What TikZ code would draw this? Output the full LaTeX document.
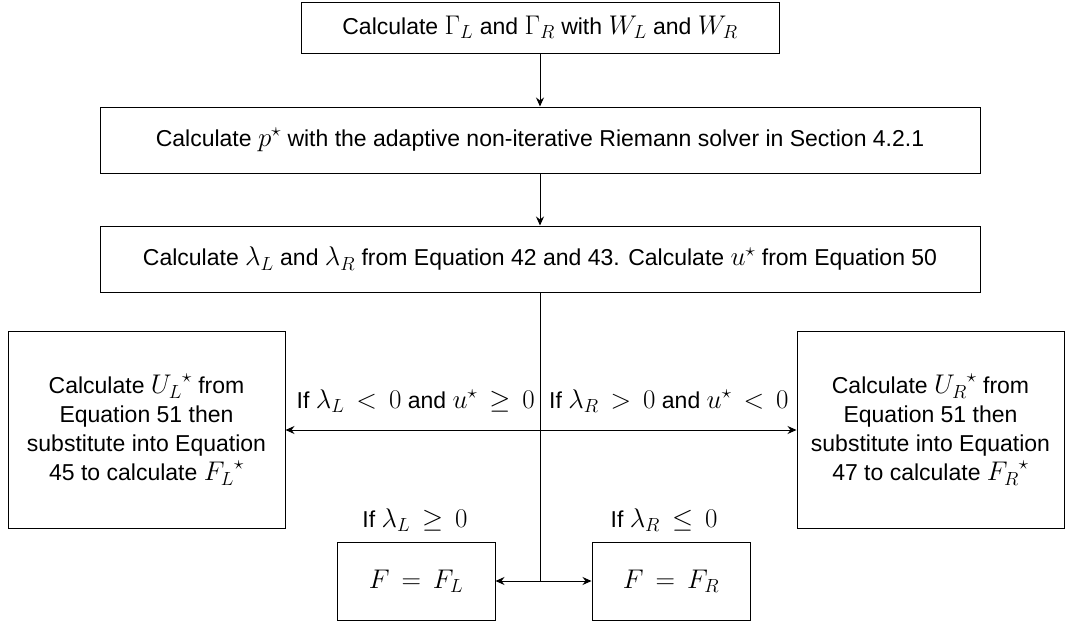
\documentclass[tikz,border=0pt]{standalone}
\usepackage{fix-cm}
\usepackage[no-math]{fontspec}
\setmainfont{Liberation Sans}
\DeclareMathSizes{23}{27}{19}{15}
\usepackage{tikz}
\usetikzlibrary{arrows.meta,positioning,calc}
\tikzset{
    stagebox/.style={
        draw=black,line width=1pt,align=center,inner sep=0pt,
        font=\fontsize{23}{29}\selectfont
    },
    arrow/.style={
        -{Stealth[length=9pt,width=8pt,inset=3pt]},line width=1pt,draw=black
    },
    cond/.style={
        inner sep=0pt,font=\fontsize{23}{28}\selectfont
    }
}

\begin{document}
\begin{tikzpicture}[x=1pt,y=-1pt]

\useasboundingbox (0,0) rectangle (1071,621);

\node[stagebox,minimum width=478pt,minimum height=51pt]
(gamma) at (540,27.5)
{Calculate $\Gamma_L$ and $\Gamma_R$ with $W_L$ and $W_R$};

\node[stagebox,minimum width=880pt,minimum height=66pt]
(pstar) at (540,140)
{Calculate $p^\star$ with the adaptive non-iterative Riemann solver in Section 4.2.1};

\node[stagebox,minimum width=880pt,minimum height=66pt]
(speeds) at (540,259)
{Calculate $\lambda_L$ and $\lambda_R$ from Equation 42 and 43. Calculate $u^\star$ from Equation 50};

\node[stagebox,minimum width=277pt,minimum height=197pt]
(starL) at (146.5,429.5)
{
Calculate ${U_L}^\star$ from\\
Equation 51 then\\
substitute into Equation\\
45 to calculate ${F_L}^\star$
};

\node[stagebox,minimum width=267pt,minimum height=197pt]
(starR) at (930.5,429.5)
{
Calculate ${U_R}^\star$ from\\
Equation 51 then\\
substitute into Equation\\
47 to calculate ${F_R}^\star$
};

\node[stagebox,minimum width=158pt,minimum height=78pt]
(fluxL) at (416,581)
{$F\,=\,F_L$};

\node[stagebox,minimum width=158pt,minimum height=78pt]
(fluxR) at (671,581)
{$F\,=\,F_R$};

\coordinate (split) at (540,430);
\coordinate (fork) at (540,581);

\node[cond,anchor=base east] (condL) at (535,408)
{If $\lambda_L\,<\,0$ and $u^\star\,\geq\,0$};
\node[cond,anchor=base west] (condR) at (549,408)
{If $\lambda_R\,>\,0$ and $u^\star\,<\,0$};
\node[cond,anchor=base] (supL) at (415,527)
{If $\lambda_L\,\geq\,0$};
\node[cond,anchor=base] (supR) at (664,527)
{If $\lambda_R\,\leq\,0$};

\draw[arrow] (gamma) -- (pstar);
\draw[arrow] (pstar) -- (speeds);
\draw[line width=1pt] (speeds.south) -- (fork);
\draw[arrow] (split) -- (split -| starL.east);
\draw[arrow] (split) -- (split -| starR.west);
\draw[arrow] (fork) -- (fluxL);
\draw[arrow] (fork) -- (fluxR);

\end{tikzpicture}
\end{document}
